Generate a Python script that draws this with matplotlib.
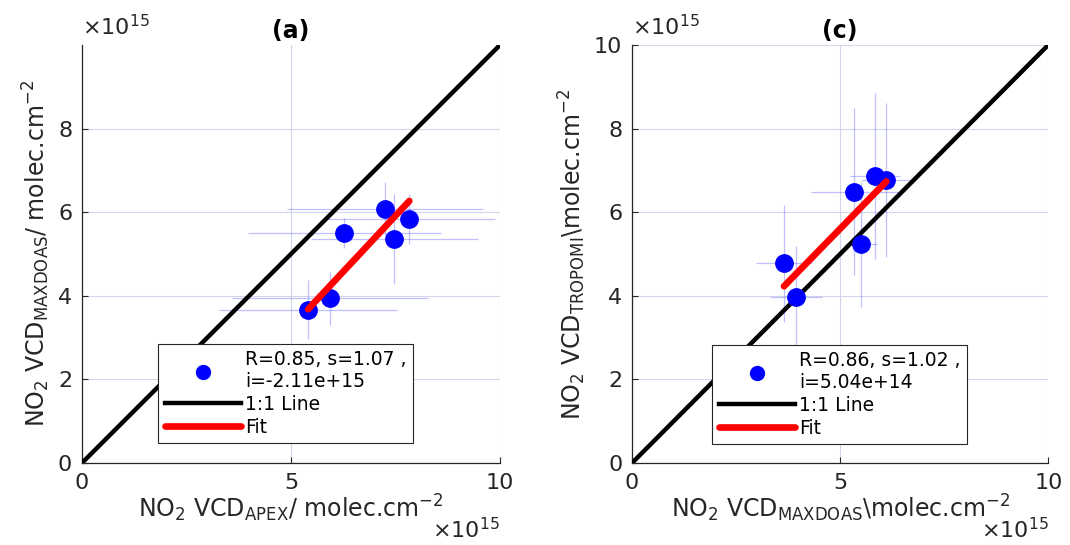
import numpy as np
import matplotlib.pyplot as plt

# valores em unidades de 1e15 molec/cm2
# painel (a): APEX x MAXDOAS
apex = [7.25, 7.83, 6.28, 7.47, 5.93, 5.41]
apex_err = [2.35, 2.05, 2.3, 2.0, 2.35, 2.13]
maxdoas_a = [6.08, 5.83, 5.50, 5.35, 3.94, 3.67]
maxdoas_a_err = [0.65, 0.6, 0.36, 1.08, 0.64, 0.7]
fit_a = (1.07, -2.11)   # slope, intercept (1e15)
leg_a = 'R=0.85, s=1.07 ,\ni=-2.11e+15'

# painel (c): MAXDOAS x TROPOMI
maxdoas_c = [3.65, 3.94, 5.34, 5.50, 5.84, 6.11]
maxdoas_c_err = [0.68, 0.63, 1.05, 0.38, 0.6, 0.6]
tropomi = [4.78, 3.98, 6.49, 5.23, 6.87, 6.77]
tropomi_err = [1.4, 1.2, 2.0, 1.5, 1.98, 1.85]
fit_c = (1.02, 0.504)
leg_c = 'R=0.86, s=1.02 ,\ni=5.04e+14'

GRID = '#d4d4ea'
AXC = '#262626'


def painel(ax, X, XE, Y, YE, FIT, LEG, TITLE, XLABEL, YLABEL, YTICKS, legpos):
    '''
    Scatter com barras de erro, linha 1:1 e ajuste
    '''
    ax.errorbar(X, Y, xerr=XE, yerr=YE, fmt='none', ecolor=(0.3, 0.3, 1, 0.35), elinewidth=0.9, zorder=2)
    sc, = ax.plot(X, Y, 'o', color='blue', markersize=12.5, zorder=4)
    l1, = ax.plot([0, 10], [0, 10], color='black', lw=3.2, zorder=3)
    xf = np.array([min(X), max(X)])
    lf, = ax.plot(xf, FIT[0] * xf + FIT[1], color='red', lw=4.8, solid_capstyle='round', zorder=5)
    ax.set_xlim(0, 10)
    ax.set_ylim(0, 10)
    ax.set_xticks([0, 5, 10])
    ax.set_yticks(YTICKS)
    ax.grid(True, color=GRID, lw=0.8)
    ax.set_axisbelow(True)
    for s in ['top', 'right']:
        ax.spines[s].set_visible(False)
    for s in ['left', 'bottom']:
        ax.spines[s].set_color(AXC)
        ax.spines[s].set_linewidth(0.9)
    ax.tick_params(direction='in', length=4, labelsize=16, colors=AXC, pad=7)
    ax.set_title(TITLE, fontsize=17, fontweight='bold', pad=5)
    ax.set_xlabel(XLABEL, fontsize=17, color=AXC, labelpad=0)
    ax.set_ylabel(YLABEL, fontsize=17, color=AXC, labelpad=4)
    ax.text(0.0, 1.045, r'$\times10^{15}$', transform=ax.transAxes, fontsize=16, color=AXC, va='center', ha='left')
    ax.text(1.0, -0.16, r'$\times10^{15}$', transform=ax.transAxes, fontsize=16, color=AXC, va='center', ha='right')
    leg = ax.legend([sc, l1, lf], [LEG, '1:1 Line', 'Fit'], loc='lower left', bbox_to_anchor=legpos,
                    fontsize=13.5, handlelength=4.1, handletextpad=0.2, borderpad=0.35, labelspacing=0.2,
                    borderaxespad=0, fancybox=False, framealpha=1, edgecolor=AXC, markerscale=0.8)
    leg.get_frame().set_linewidth(0.8)
    return


fig = plt.figure(figsize=(10.7, 5.45), dpi=100)
ax1 = fig.add_axes([0.0766, 0.1505, 0.3907, 0.767])
ax2 = fig.add_axes([0.5907, 0.1505, 0.389, 0.767])

painel(ax1, apex, apex_err, maxdoas_a, maxdoas_a_err, fit_a, leg_a, '(a)',
       r'NO$_2$ VCD$_{\mathrm{APEX}}$/ molec.cm$^{-2}$', r'NO$_2$ VCD$_{\mathrm{MAXDOAS}}$/ molec.cm$^{-2}$',
       [0, 2, 4, 6, 8], (0.182, 0.047))
painel(ax2, maxdoas_c, maxdoas_c_err, tropomi, tropomi_err, fit_c, leg_c, '(c)',
       r'NO$_2$ VCD$_{\mathrm{MAXDOAS}}$\molec.cm$^{-2}$', r'NO$_2$ VCD$_{\mathrm{TROPOMI}}$\molec.cm$^{-2}$',
       [0, 2, 4, 6, 8, 10], (0.192, 0.045))

plt.savefig('out.png', dpi=100)
